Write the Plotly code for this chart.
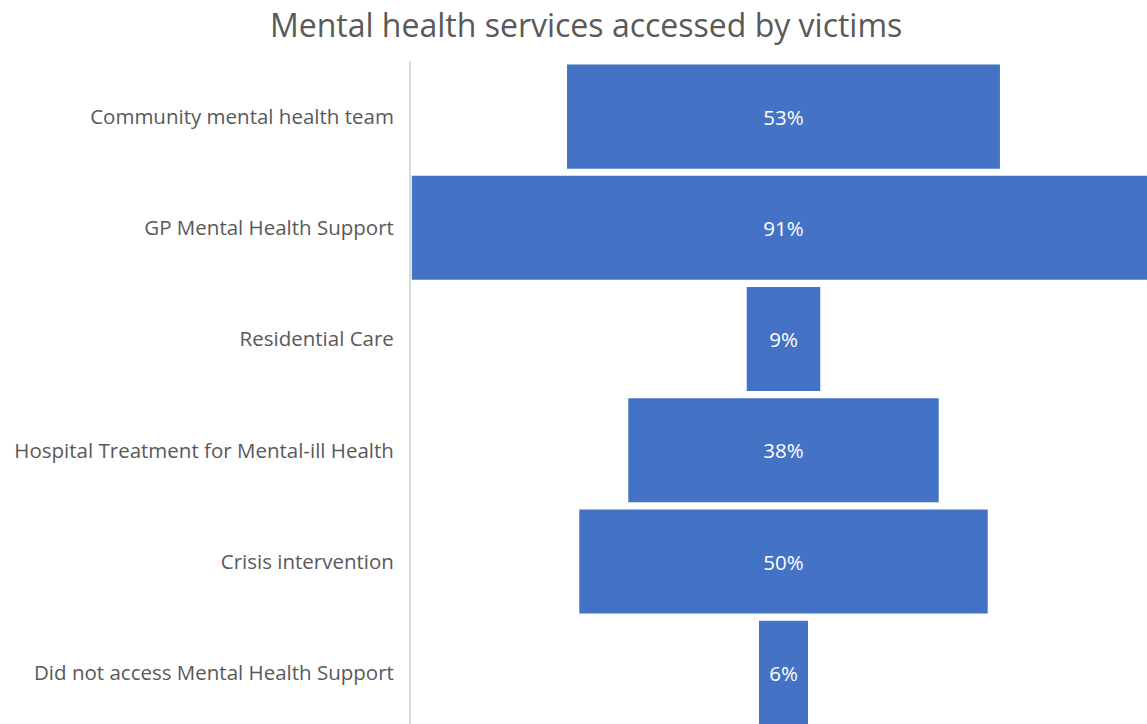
import plotly.graph_objects as go

categories = [
    "Community mental health team",
    "GP Mental Health Support",
    "Residential Care",
    "Hospital Treatment for Mental-ill Health",
    "Crisis intervention",
    "Did not access Mental Health Support",
]
values = [53, 91, 9, 38, 50, 6]

fig = go.Figure(go.Funnel(
    y=categories,
    x=values,
    texttemplate="%{x}%",
    textposition="inside",
    insidetextfont=dict(color="white", size=20.5, family="Open Sans"),
    marker=dict(color="#4472C4", line=dict(width=0)),
    connector=dict(visible=False),
    hoverinfo="skip",
))

fig.update_layout(
    width=1147, height=724,
    paper_bgcolor="white", plot_bgcolor="white",
    margin=dict(l=411, r=0, t=61, b=0),
    title=dict(text="Mental health services accessed by victims", x=0.511, xanchor="center",
               y=0.965, yanchor="middle",
               font=dict(family="Open Sans", size=32, color="#595959")),
    font=dict(family="Open Sans", color="#595959"),
    showlegend=False,
    funnelgap=0.065,
    xaxis=dict(range=[-45.6, 44.5], visible=False, fixedrange=True),
    yaxis=dict(range=[5.46, -0.5], showline=True, linecolor="#d9d9d9", linewidth=2,
               ticks="", ticklabelstandoff=11, tickfont=dict(size=20.5, color="#595959"),
               showgrid=False, zeroline=False, fixedrange=True),
)

fig.write_html("out.html", config={"displayModeBar": False},
               post_script="document.body.style.margin='0';document.body.style.overflow='hidden';")
